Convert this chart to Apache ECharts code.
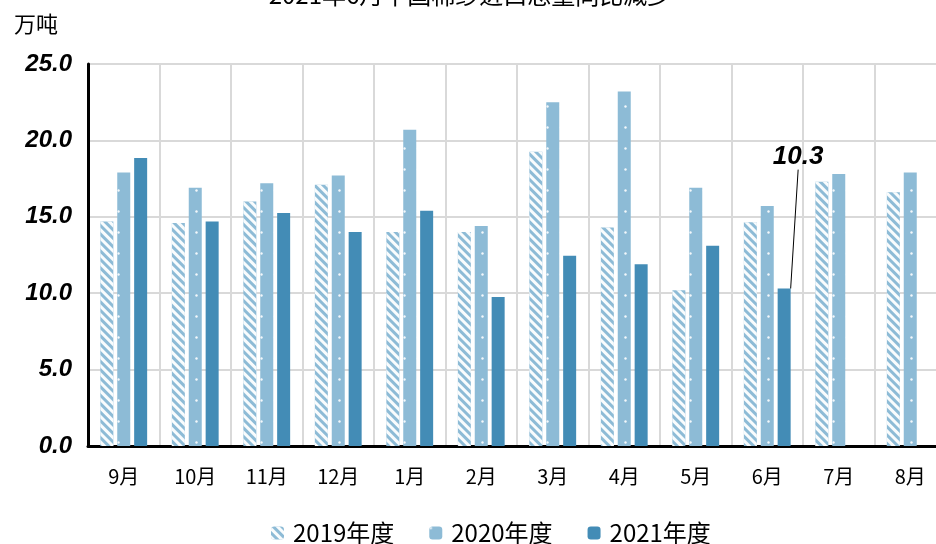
<!DOCTYPE html>
<html><head><meta charset="utf-8">
<script src="https://cdn.jsdelivr.net/npm/echarts@6/dist/echarts.min.js"></script>
<style>html,body{margin:0;padding:0;background:#fff}#c{width:936px;height:544px}</style>
</head><body><div id="c"></div>
<script>
const categories = ['9月','10月','11月','12月','1月','2月','3月','4月','5月','6月','7月','8月'];
const seriesNames = ['2019年度','2020年度','2021年度'];
const v2019 = [14.7,14.6,16.0,17.1,14.0,14.0,19.25,14.3,10.2,14.65,17.3,16.6];
const v2020 = [17.9,16.9,17.2,17.7,20.7,14.4,22.5,23.2,16.9,15.7,17.8,17.9];
const v2021 = [18.85,14.7,15.25,14.0,15.4,9.75,12.45,11.9,13.1,10.3,null,null];
const yTicks = [0,5,10,15,20,25];
const labelledIndex = 9;
const titleText = '2021年6月中国棉纱进口总量同比减少';

const chart = echarts.init(document.getElementById('c'), null, {renderer:'canvas'});
const lightBlue = '#8DBBD6', darkBlue = '#438CB6';
const num = 'Liberation Sans, Arial, sans-serif';
const cjk = 'Noto Sans CJK SC, sans-serif';
chart.setOption({
  animation:false,
  title:{text:titleText,left:465,textAlign:'center',top:-22,textStyle:{fontSize:24,fontWeight:'normal',color:'#000',fontFamily:cjk}},
  legend:{data:seriesNames,left:266,top:516,itemWidth:13,itemHeight:13,itemGap:35,
    textStyle:{fontSize:24,color:'#000',fontFamily:cjk,padding:[0,0,0,4]}},
  grid:{left:88,top:64,height:382,width:858,outerBoundsMode:'none',containLabel:false},
  xAxis:{type:'category',data:categories,
    axisTick:{show:false},
    axisLine:{lineStyle:{color:'#000',width:3}},
    splitLine:{show:true,lineStyle:{color:'#D9D9D9',width:2}},
    axisLabel:{fontSize:20,color:'#000',margin:20,fontFamily:cjk,interval:0}},
  yAxis:{type:'value',min:0,max:25,interval:5,name:'万吨',
    nameLocation:'end',nameGap:40,
    nameTextStyle:{fontSize:22,color:'#000',fontFamily:cjk,align:'right',verticalAlign:'middle',padding:[0,30,0,0]},
    axisLine:{show:true,lineStyle:{color:'#000',width:3}},
    axisTick:{show:false},
    splitLine:{lineStyle:{color:'#D9D9D9',width:2}},
    axisLabel:{fontSize:24,fontStyle:'italic',fontWeight:'bold',color:'#000',margin:16,fontFamily:num,
      formatter:v=>yTicks.includes(v)?v.toFixed(1):''}},
  series:[
    {name:seriesNames[0],type:'bar',data:v2019,barWidth:13,barGap:'30%',
      itemStyle:{color:lightBlue,decal:{symbol:'rect',color:'rgba(255,255,255,0.95)',dashArrayX:[1,0],dashArrayY:[3,3],rotation:Math.PI/4,symbolSize:1}}},
    {name:seriesNames[1],type:'bar',data:v2020,barWidth:13,barGap:'30%',
      itemStyle:{color:lightBlue,decal:{symbol:'circle',color:'rgba(255,255,255,0.9)',dashArrayX:[[3,10]],dashArrayY:[3,18],symbolSize:0.8,rotation:0}}},
    {name:seriesNames[2],type:'bar',data:v2021.map((v,i)=>i===labelledIndex?{value:v,label:{show:true}}:v),
      barWidth:13,barGap:'30%',itemStyle:{color:darkBlue},
      label:{show:false,formatter:p=>p.value.toFixed(1),position:'top',fontSize:26,fontWeight:'bold',fontStyle:'italic',color:'#000',fontFamily:num},
      labelLine:{show:true,lineStyle:{color:'#000',width:1}},
      labelLayout:p=>p.dataIndex===labelledIndex?{dx:14,dy:-114}:{}}
  ]
});
</script></body></html>
